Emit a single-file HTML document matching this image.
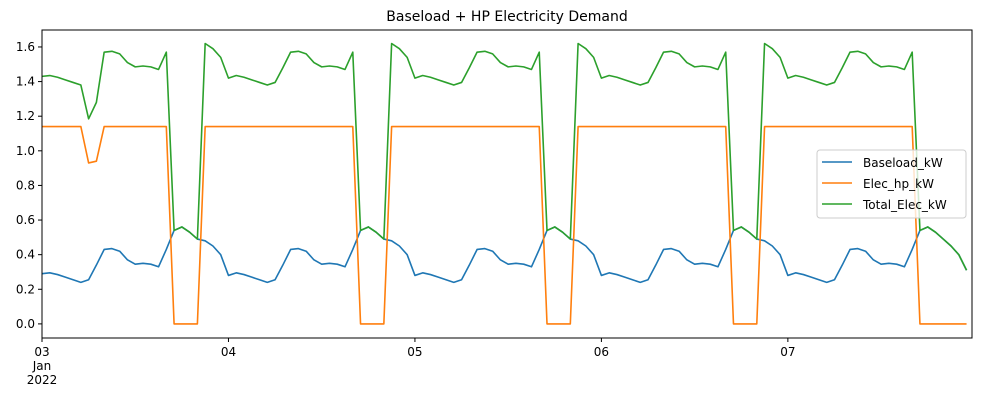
<!DOCTYPE html>
<html><head><meta charset="utf-8"><style>
body{margin:0;background:#fff;font-family:"Liberation Sans","DejaVu Sans",sans-serif;}
svg text{font-family:"DejaVu Sans","Liberation Sans",sans-serif;}
</style></head><body>
<svg id="chart" width="981" height="404" viewBox="0 0 981 404" xmlns="http://www.w3.org/2000/svg">
<text x="507" y="21" font-size="14" text-anchor="middle">Baseload + HP Electricity Demand</text>
<g id="plot"></g>
<rect x="42" y="30" width="930" height="308" fill="none" stroke="#000" stroke-width="1"/>
<g>
<rect x="817" y="150" width="149" height="68" rx="3" fill="#fff" fill-opacity="0.8" stroke="#ccc"/>
<line x1="822" y1="162" x2="852" y2="162" stroke="#1f77b4" stroke-width="1.5"/>
<text x="863" y="167" font-size="12">Baseload_kW</text>
<line x1="822" y1="183" x2="852" y2="183" stroke="#ff7f0e" stroke-width="1.5"/>
<text x="863" y="188" font-size="12">Elec_hp_kW</text>
<line x1="822" y1="204" x2="852" y2="204" stroke="#2ca02c" stroke-width="1.5"/>
<text x="863" y="209" font-size="12">Total_Elec_kW</text>
</g>
</svg>
<script>
const baseload = [
.29,.295,.285,.27,.255,.24,.255,.34,.43,.435,.42,.37,.345,.35,.345,.33,.43,.54,.56,.53,.49,.48,.45,.40,
.28,.295,.285,.27,.255,.24,.255,.34,.43,.435,.42,.37,.345,.35,.345,.33,.43,.54,.56,.53,.49,.48,.45,.40,
.28,.295,.285,.27,.255,.24,.255,.34,.43,.435,.42,.37,.345,.35,.345,.33,.43,.54,.56,.53,.49,.48,.45,.40,
.28,.295,.285,.27,.255,.24,.255,.34,.43,.435,.42,.37,.345,.35,.345,.33,.43,.54,.56,.53,.49,.48,.45,.40,
.28,.295,.285,.27,.255,.24,.255,.34,.43,.435,.42,.37,.345,.35,.345,.33,.43,.54,.56,.53,.49,.45,.40,.31];
const elecHp = [
1.14,1.14,1.14,1.14,1.14,1.14,.93,.94,1.14,1.14,1.14,1.14,1.14,1.14,1.14,1.14,1.14,0,0,0,0,1.14,1.14,1.14,
1.14,1.14,1.14,1.14,1.14,1.14,1.14,1.14,1.14,1.14,1.14,1.14,1.14,1.14,1.14,1.14,1.14,0,0,0,0,1.14,1.14,1.14,
1.14,1.14,1.14,1.14,1.14,1.14,1.14,1.14,1.14,1.14,1.14,1.14,1.14,1.14,1.14,1.14,1.14,0,0,0,0,1.14,1.14,1.14,
1.14,1.14,1.14,1.14,1.14,1.14,1.14,1.14,1.14,1.14,1.14,1.14,1.14,1.14,1.14,1.14,1.14,0,0,0,0,1.14,1.14,1.14,
1.14,1.14,1.14,1.14,1.14,1.14,1.14,1.14,1.14,1.14,1.14,1.14,1.14,1.14,1.14,1.14,1.14,0,0,0,0,0,0,0];
const yTicks = [0,0.2,0.4,0.6,0.8,1.0,1.2,1.4,1.6];
const xTickLabels = ["03","04","05","06","07"];
const xTickHours = [0,24,48,72,96];

const NS="http://www.w3.org/2000/svg";
const g=document.getElementById('plot');
const X0=42,X1=972,Y0=30,Y1=338,HMAX=119.7,VMIN=-0.0815,VMAX=1.698;
function xs(h){return X0+h*(X1-X0)/HMAX;}
function ys(v){return Y1-(v-VMIN)*(Y1-Y0)/(VMAX-VMIN);}
function mk(t,a){const e=document.createElementNS(NS,t);for(const k in a)e.setAttribute(k,a[k]);g.appendChild(e);return e;}
yTicks.forEach(v=>{
  const l=mk('line',{x1:X0-4,x2:X0,y1:ys(v),y2:ys(v),stroke:'#000'});
  
  
  const t=mk('text',{x:X0-7,y:ys(v)+4,'font-size':12,'text-anchor':'end'});
  t.textContent=v.toFixed(1);
  
  
});
xTickHours.forEach((h,i)=>{
  const l=mk('line',{x1:xs(h),x2:xs(h),y1:Y1,y2:Y1+4,stroke:'#000'});
  
  
  const t=mk('text',{x:xs(h),y:Y1+18,'font-size':12,'text-anchor':'middle'});
  t.textContent=xTickLabels[i];
  
  
});
const t1=mk('text',{x:xs(0),y:Y1+32,'font-size':12,'text-anchor':'middle'});t1.textContent='Jan';


const t2=mk('text',{x:xs(0),y:Y1+46,'font-size':12,'text-anchor':'middle'});t2.textContent='2022';


const total=baseload.map((b,i)=>b+elecHp[i]);
function line(arr,col,name){
  const p=mk('polyline',{points:arr.map((v,i)=>xs(i).toFixed(2)+','+ys(v).toFixed(2)).join(' '),fill:'none',stroke:col,'stroke-width':1.6,'stroke-linejoin':'round'});
  
  
}
line(baseload,'#1f77b4','baseload-line');
line(elecHp,'#ff7f0e','elec-hp-line');
line(total,'#2ca02c','total-elec-line');
</script>
</body></html>
